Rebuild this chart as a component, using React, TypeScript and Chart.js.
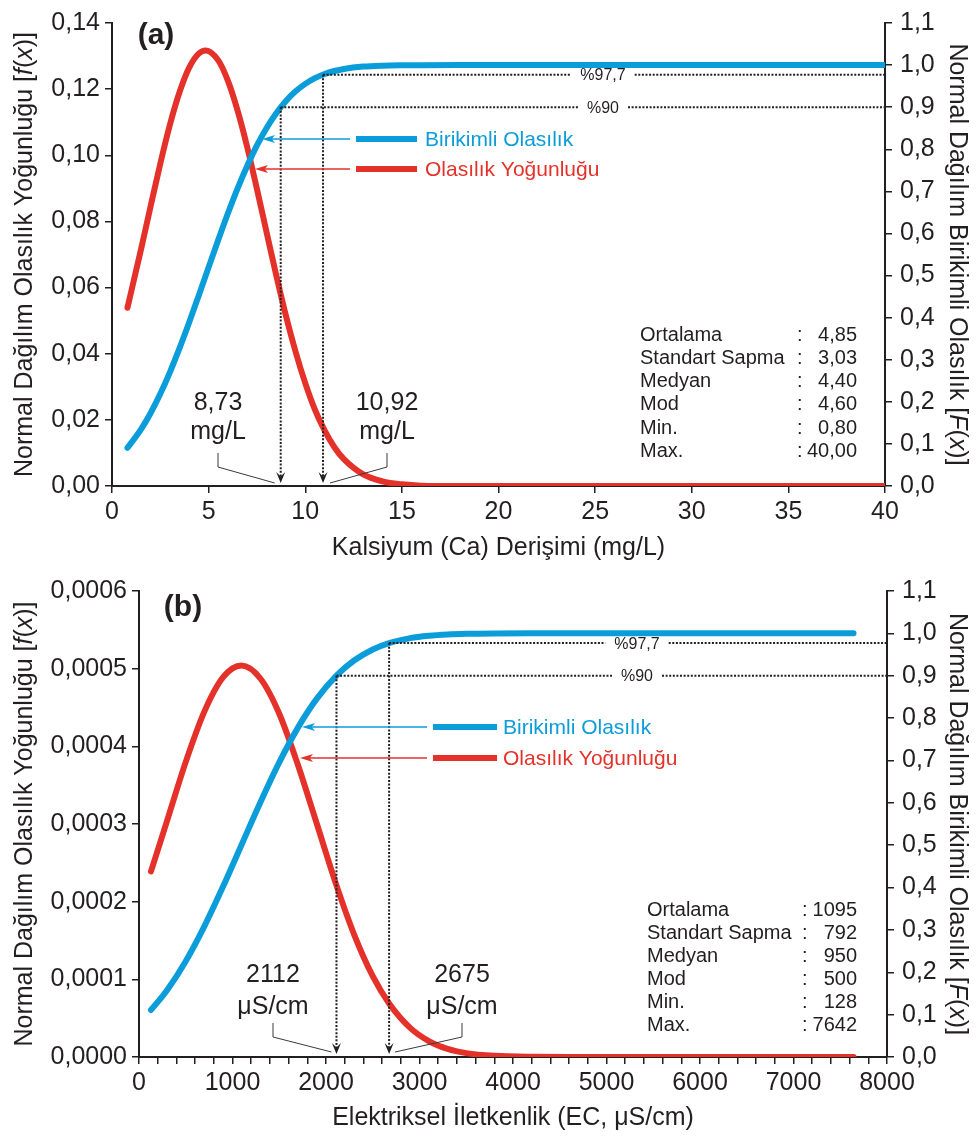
import React, { useEffect, useRef } from 'react';
import { Chart, registerables } from 'chart.js';

Chart.register(...registerables);

const FONT = '"Liberation Sans", Arial, Helvetica, sans-serif';
const INK = '#231f20';
const BLUE = '#0b9dd9';
const RED = '#e4322b';

// ---------------- Panel (a): Kalsiyum ----------------
const caConc = [0.8, 1.5, 2, 2.5, 3, 3.5, 4, 4.5, 4.85, 5.5, 6, 6.5, 7, 7.5, 8, 8.5, 9, 9.5, 10, 10.5, 11, 11.5, 12, 13, 14, 15, 16, 18, 20, 25, 30, 35, 40];
const caDensity = [0.0539, 0.0715, 0.0846, 0.0975, 0.1093, 0.1192, 0.1266, 0.1308, 0.1317, 0.1287, 0.1225, 0.1135, 0.1024, 0.0898, 0.0767, 0.0637, 0.0515, 0.0406, 0.0311, 0.0231, 0.0168, 0.0118, 0.0081, 0.0035, 0.0014, 0.0005, 0.0001, 0, 0, 0, 0, 0, 0];
const caCumulative = [0.0907, 0.1345, 0.1735, 0.219, 0.2707, 0.328, 0.3895, 0.454, 0.5, 0.5849, 0.6479, 0.707, 0.761, 0.8091, 0.8507, 0.8858, 0.9146, 0.9376, 0.9554, 0.9689, 0.9788, 0.9859, 0.9909, 0.9964, 0.9987, 0.9996, 0.9999, 1, 1, 1, 1, 1, 1];
const caXTicks = [0, 5, 10, 15, 20, 25, 30, 35, 40];
const caLeftTicks = [0, 0.02, 0.04, 0.06, 0.08, 0.1, 0.12, 0.14];
const caMarkers = [8.73, 10.92];
const caMarkerProbs = [0.9, 0.977];
const caMarkerTexts = [['8,73', 'mg/L'], ['10,92', 'mg/L']];
const caStatLabels = ['Ortalama', 'Standart Sapma', 'Medyan', 'Mod', 'Min.', 'Max.'];
const caStatValues = ['4,85', '3,03', '4,40', '4,60', '0,80', '40,00'];

// ---------------- Panel (b): Elektriksel İletkenlik ----------------
const ecConc = [128, 300, 500, 700, 900, 1095, 1300, 1500, 1700, 1900, 2112, 2300, 2500, 2675, 2900, 3100, 3300, 3500, 3800, 4200, 4600, 5000, 6000, 7000, 7642];
const ecDensity = [0.000239, 0.000304, 0.00038, 0.000445, 0.000489, 0.000504, 0.000487, 0.000442, 0.000376, 0.000301, 0.000221, 0.000158, 0.000104, 0.0000689, 0.0000375, 0.0000205, 0.0000104, 0.000005, 0.0000015, 0.0000002, 0, 0, 0, 0, 0];
const ecCumulative = [0.111, 0.1577, 0.2262, 0.309, 0.4028, 0.5, 0.6021, 0.6955, 0.7775, 0.8453, 0.9004, 0.9359, 0.962, 0.977, 0.9887, 0.9943, 0.9973, 0.9988, 0.9997, 1, 1, 1, 1, 1, 1];
const ecXTickLabels = [0, 1000, 2000, 3000, 4000, 5000, 6000, 7000, 8000];
const ecMinorStep = 200;
const ecLeftTicks = [0, 0.0001, 0.0002, 0.0003, 0.0004, 0.0005, 0.0006];
const ecMarkers = [2112, 2675];
const ecMarkerProbs = [0.9, 0.977];
const ecMarkerTexts = [['2112', 'μS/cm'], ['2675', 'μS/cm']];
const ecStatLabels = ['Ortalama', 'Standart Sapma', 'Medyan', 'Mod', 'Min.', 'Max.'];
const ecStatValues = ['1095', '792', '950', '500', '128', '7642'];

// shared
const cumTicks = [0, 0.1, 0.2, 0.3, 0.4, 0.5, 0.6, 0.7, 0.8, 0.9, 1.0, 1.1];
const pctLabels = ['%90', '%97,7'];
const legendLabels = ['Birikimli Olasılık', 'Olasılık Yoğunluğu'];

type Seg = { t: string; i?: boolean };

const leftTitle: Seg[] = [{ t: 'Normal Dağılım Olasılık Yoğunluğu [' }, { t: 'f', i: true }, { t: '(' }, { t: 'x', i: true }, { t: ')]' }];
const rightTitle: Seg[] = [{ t: 'Normal Dağılım Birikimli Olasılık [' }, { t: 'F', i: true }, { t: '(' }, { t: 'x', i: true }, { t: ')]' }];

interface Spec {
  H: number;
  xs: number[];
  density: number[];
  cumulative: number[];
  xMin: number;
  xMax: number;
  xStep: number;
  xLabels: number[];
  leftTicks: number[];
  leftDec: number;
  area: { left: number; right: number; top: number; bottom: number };
  xPad: number;
  xTitle: string;
  xTitleY: number;
  tag: string;
  tagX: number;
  tagY: number;
  markers: number[];
  markerProbs: number[];
  pctX: number;
  markerTexts: string[][];
  markerTextX: number[];
  textRow1: number;
  textRow2: number;
  leader: { top: number; knee: number; end: number; dx: number[] };
  legend: { y: number[]; lineX1: number; lineX2: number; arrowX: number; tipX: number[]; textX: number };
  statLabels: string[];
  statValues: string[];
  stat: { lx: number; cx: number; vx: number; y0: number; dy: number };
}

const specA: Spec = {
  H: 568,
  xs: caConc,
  density: caDensity,
  cumulative: caCumulative,
  xMin: 0,
  xMax: 40,
  xStep: 5,
  xLabels: caXTicks,
  leftTicks: caLeftTicks,
  leftDec: 2,
  area: { left: 112, right: 885, top: 20, bottom: 486 },
  xPad: 4,
  xTitle: 'Kalsiyum (Ca) Derişimi (mg/L)',
  xTitleY: 548,
  tag: '(a)',
  tagX: 156,
  tagY: 36,
  markers: caMarkers,
  markerProbs: caMarkerProbs,
  pctX: 603,
  markerTexts: caMarkerTexts,
  markerTextX: [218, 387],
  textRow1: -83,
  textRow2: -54,
  leader: { top: -33, knee: -19, end: -3, dx: [-6, 7] },
  legend: { y: [139, 169], lineX1: 356, lineX2: 417, arrowX: 350, tipX: [262, 255], textX: 425 },
  statLabels: caStatLabels,
  statValues: caStatValues,
  stat: { lx: 640, cx: 797, vx: 857, y0: 335, dy: 23.3 },
};

const specB: Spec = {
  H: 568,
  xs: ecConc,
  density: ecDensity,
  cumulative: ecCumulative,
  xMin: 0,
  xMax: 8000,
  xStep: ecMinorStep,
  xLabels: ecXTickLabels,
  leftTicks: ecLeftTicks,
  leftDec: 4,
  area: { left: 139, right: 887, top: 23, bottom: 489 },
  xPad: 4,
  xTitle: 'Elektriksel İletkenlik (EC, μS/cm)',
  xTitleY: 550,
  tag: '(b)',
  tagX: 183,
  tagY: 40,
  markers: ecMarkers,
  markerProbs: ecMarkerProbs,
  pctX: 637,
  markerTexts: ecMarkerTexts,
  markerTextX: [273, 462],
  textRow1: -82,
  textRow2: -50,
  leader: { top: -34, knee: -20, end: -5, dx: [-5, 6] },
  legend: { y: [159, 190], lineX1: 433, lineX2: 497, arrowX: 427, tipX: [302, 300], textX: 503 },
  statLabels: ecStatLabels,
  statValues: ecStatValues,
  stat: { lx: 647, cx: 802, vx: 857, y0: 342, dy: 23 },
};

function drawMixed(ctx: CanvasRenderingContext2D, segs: Seg[], x: number, y: number, rot: number, size: number) {
  ctx.save();
  ctx.translate(x, y);
  ctx.rotate(rot);
  ctx.fillStyle = INK;
  ctx.textBaseline = 'middle';
  ctx.textAlign = 'left';
  const fonts = segs.map((s) => `${s.i ? 'italic ' : ''}${size}px ${FONT}`);
  let total = 0;
  const widths = segs.map((s, k) => {
    ctx.font = fonts[k];
    const w = ctx.measureText(s.t).width;
    total += w;
    return w;
  });
  let cx = -total / 2;
  segs.forEach((s, k) => {
    ctx.font = fonts[k];
    ctx.fillText(s.t, cx, 0);
    cx += widths[k];
  });
  ctx.restore();
}

function arrowHead(ctx: CanvasRenderingContext2D, tipX: number, tipY: number, dir: 'down' | 'left', len: number, half: number, color: string) {
  ctx.save();
  ctx.fillStyle = color;
  ctx.beginPath();
  if (dir === 'down') {
    ctx.moveTo(tipX, tipY);
    ctx.lineTo(tipX - half, tipY - len);
    ctx.lineTo(tipX, tipY - len * 0.6);
    ctx.lineTo(tipX + half, tipY - len);
  } else {
    ctx.moveTo(tipX, tipY);
    ctx.lineTo(tipX + len, tipY - half);
    ctx.lineTo(tipX + len * 0.75, tipY);
    ctx.lineTo(tipX + len, tipY + half);
  }
  ctx.closePath();
  ctx.fill();
  ctx.restore();
}

function makeOverlay(s: Spec) {
  return {
    id: 'overlay',
    afterDatasetsDraw(chart: any) {
      const ctx: CanvasRenderingContext2D = chart.ctx;
      const a = chart.chartArea;
      const xs = chart.scales.x;
      const yr = chart.scales.yR;
      ctx.save();

      // dotted guide lines + arrowheads + percentage labels
      s.markers.forEach((m, i) => {
        const px = xs.getPixelForValue(m);
        const py = yr.getPixelForValue(s.markerProbs[i]);
        ctx.font = `16px ${FONT}`;
        const tw = ctx.measureText(pctLabels[i]).width;
        const gap = tw / 2 + 9;
        ctx.strokeStyle = INK;
        ctx.lineWidth = 2;
        ctx.setLineDash([2, 1.6]);
        ctx.beginPath();
        ctx.moveTo(px, py);
        ctx.lineTo(px, a.bottom - 9);
        ctx.moveTo(px, py);
        ctx.lineTo(s.pctX - gap, py);
        ctx.moveTo(s.pctX + gap, py);
        ctx.lineTo(a.right, py);
        ctx.stroke();
        ctx.setLineDash([]);
        arrowHead(ctx, px, a.bottom - 3, 'down', 11, 4.5, INK);
        ctx.fillStyle = INK;
        ctx.textAlign = 'center';
        ctx.textBaseline = 'middle';
        ctx.fillText(pctLabels[i], s.pctX, py + 1);

        // value labels with leader lines
        const lx = s.markerTextX[i];
        ctx.font = `25px ${FONT}`;
        ctx.fillText(s.markerTexts[i][0], lx, a.bottom + s.textRow1);
        ctx.fillText(s.markerTexts[i][1], lx, a.bottom + s.textRow2);
        ctx.strokeStyle = '#3a3a3a';
        ctx.lineWidth = 1;
        ctx.beginPath();
        ctx.moveTo(lx, a.bottom + s.leader.top);
        ctx.lineTo(lx, a.bottom + s.leader.knee);
        ctx.lineTo(px + s.leader.dx[i], a.bottom + s.leader.end);
        ctx.stroke();
      });

      // legend with arrows
      const colors = [BLUE, RED];
      s.legend.y.forEach((y, i) => {
        ctx.strokeStyle = colors[i];
        ctx.lineWidth = 6;
        ctx.lineCap = 'butt';
        ctx.beginPath();
        ctx.moveTo(s.legend.lineX1, y);
        ctx.lineTo(s.legend.lineX2, y);
        ctx.stroke();
        ctx.lineWidth = 1.3;
        ctx.beginPath();
        ctx.moveTo(s.legend.arrowX, y);
        ctx.lineTo(s.legend.tipX[i] + 10, y);
        ctx.stroke();
        arrowHead(ctx, s.legend.tipX[i], y, 'left', 13, 4, colors[i]);
        ctx.fillStyle = colors[i];
        ctx.font = `21px ${FONT}`;
        ctx.textAlign = 'left';
        ctx.textBaseline = 'middle';
        ctx.fillText(legendLabels[i], s.legend.textX, y + 1);
      });

      // statistics block
      ctx.fillStyle = INK;
      ctx.font = `20px ${FONT}`;
      ctx.textBaseline = 'middle';
      s.statLabels.forEach((lab, i) => {
        const y = s.stat.y0 + i * s.stat.dy;
        ctx.textAlign = 'left';
        ctx.fillText(lab, s.stat.lx, y);
        ctx.fillText(':', s.stat.cx, y);
        ctx.textAlign = 'right';
        ctx.fillText(s.statValues[i], s.stat.vx, y);
      });

      // panel tag
      ctx.font = `bold 30px ${FONT}`;
      ctx.textAlign = 'center';
      ctx.fillText(s.tag, s.tagX, s.tagY);

      // axis titles
      drawMixed(ctx, leftTitle, 25, (a.top + a.bottom) / 2, -Math.PI / 2, 25);
      drawMixed(ctx, rightTitle, 957, (a.top + a.bottom) / 2, Math.PI / 2, 25);
      drawMixed(ctx, [{ t: s.xTitle }], (a.left + a.right) / 2, s.xTitleY, 0, 25);

      ctx.restore();
    },
  };
}

function Panel({ s }: { s: Spec }) {
  const ref = useRef<HTMLCanvasElement>(null);
  useEffect(() => {
    const canvas = ref.current!;
    const W = 976;
    const tickFont = { family: FONT, size: 25 };
    const axisCommon = {
      grid: { drawOnChartArea: false, drawTicks: true, tickLength: 7, color: INK, lineWidth: 1.5 },
      border: { display: true, color: INK, width: 2 },
    };
    const chart = new Chart(canvas, {
      type: 'line',
      data: {
        datasets: [
          {
            label: legendLabels[1],
            data: s.xs.map((x, i) => ({ x, y: s.density[i] })),
            yAxisID: 'yL',
            borderColor: RED,
            borderWidth: 6,
            borderCapStyle: 'round',
            pointRadius: 0,
            cubicInterpolationMode: 'monotone',
            fill: false,
            order: 2,
          },
          {
            label: legendLabels[0],
            data: s.xs.map((x, i) => ({ x, y: s.cumulative[i] })),
            yAxisID: 'yR',
            borderColor: BLUE,
            borderWidth: 6,
            borderCapStyle: 'round',
            pointRadius: 0,
            cubicInterpolationMode: 'monotone',
            fill: false,
            order: 1,
          },
        ],
      },
      options: {
        responsive: false,
        animation: false,
        events: [],
        layout: { padding: { top: s.area.top, left: 0, right: 0, bottom: 0 } },
        plugins: { legend: { display: false }, tooltip: { enabled: false } },
        scales: {
          x: {
            type: 'linear',
            position: 'bottom',
            min: s.xMin,
            max: s.xMax,
            ...axisCommon,
            afterBuildTicks: (sc: any) => {
              const t = [];
              for (let v = s.xMin; v <= s.xMax + 1e-9; v += s.xStep) t.push({ value: v });
              sc.ticks = t;
            },
            afterFit: (sc: any) => {
              sc.height = s.H - s.area.bottom;
            },
            ticks: {
              autoSkip: false,
              maxRotation: 0,
              padding: s.xPad,
              color: INK,
              font: tickFont,
              callback: (v: any) => (s.xLabels.some((l) => Math.abs(l - v) < 1e-6) ? String(Math.round(v)) : ''),
            },
          },
          yL: {
            type: 'linear',
            position: 'left',
            min: s.leftTicks[0],
            max: s.leftTicks[s.leftTicks.length - 1],
            ...axisCommon,
            afterBuildTicks: (sc: any) => {
              sc.ticks = s.leftTicks.map((v) => ({ value: v }));
            },
            afterFit: (sc: any) => {
              sc.width = s.area.left;
            },
            ticks: {
              autoSkip: false,
              padding: 5,
              color: INK,
              font: tickFont,
              callback: (v: any) => Number(v).toFixed(s.leftDec).replace('.', ','),
            },
          },
          yR: {
            type: 'linear',
            position: 'right',
            min: cumTicks[0],
            max: cumTicks[cumTicks.length - 1],
            ...axisCommon,
            afterBuildTicks: (sc: any) => {
              sc.ticks = cumTicks.map((v) => ({ value: v }));
            },
            afterFit: (sc: any) => {
              sc.width = W - s.area.right;
            },
            ticks: {
              autoSkip: false,
              padding: 8,
              color: INK,
              font: tickFont,
              callback: (v: any) => Number(v).toFixed(1).replace('.', ','),
            },
          },
        },
      },
      plugins: [makeOverlay(s)],
    } as any);
    return () => chart.destroy();
  }, [s]);
  return <canvas ref={ref} width={976} height={s.H} style={{ display: 'block', width: 976, height: s.H }} />;
}

export default function App() {
  return (
    <div style={{ position: 'absolute', left: 0, top: 0, width: 976, height: 1136, background: '#fff' }}>
      <Panel s={specA} />
      <Panel s={specB} />
    </div>
  );
}
